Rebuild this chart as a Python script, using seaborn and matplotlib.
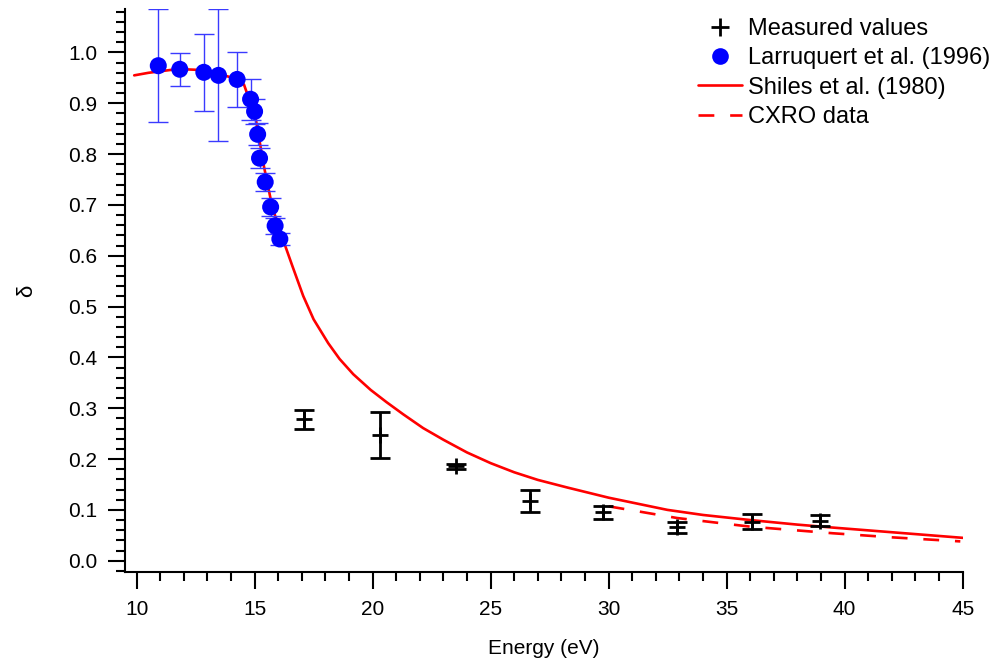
import numpy as np
import pandas as pd
import matplotlib
matplotlib.use("Agg")
import matplotlib.pyplot as plt
import seaborn as sns
from matplotlib.ticker import MultipleLocator, FormatStrFormatter
from matplotlib.lines import Line2D

# ---- data ----
meas_E = [17.08, 20.30, 23.52, 26.67, 29.78, 32.91, 36.09, 38.95]
meas_d = [0.278, 0.247, 0.186, 0.118, 0.095, 0.066, 0.077, 0.079]
meas_err = [0.019, 0.045, 0.005, 0.022, 0.012, 0.011, 0.015, 0.010]

larr_E = [10.92, 11.83, 12.85, 13.47, 14.26, 14.83, 15.00, 15.13, 15.21, 15.45, 15.68, 15.87, 16.07]
larr_d = [0.974, 0.967, 0.961, 0.955, 0.947, 0.908, 0.884, 0.839, 0.792, 0.745, 0.696, 0.659, 0.633]
larr_err = [0.111, 0.032, 0.076, 0.130, 0.054, 0.040, 0.025, 0.022, 0.020, 0.018, 0.018, 0.016, 0.012]

shiles_E = [9.9, 10.5, 11.0, 11.5, 12.0, 12.5, 13.0, 13.5, 14.0, 14.55, 15.04, 15.4, 15.75, 16.0, 16.21,
            16.6, 17.06, 17.5, 18.12, 18.6, 19.18, 19.92, 20.59, 21.3, 22.14, 23.0, 24.0, 25.0, 26.0,
            27.0, 28.25, 30.0, 32.49, 34.0, 36.0, 38.0, 39.55, 42.0, 45.0]
shiles_d = [0.955, 0.960, 0.963, 0.966, 0.967, 0.966, 0.963, 0.958, 0.951, 0.937, 0.872, 0.775, 0.696,
            0.660, 0.631, 0.580, 0.521, 0.475, 0.428, 0.397, 0.367, 0.336, 0.312, 0.288, 0.261, 0.238,
            0.213, 0.192, 0.174, 0.159, 0.144, 0.124, 0.100, 0.090, 0.080, 0.071, 0.065, 0.056, 0.045]

cxro_E = [30.0, 32.9, 36.0, 39.5, 42.0, 44.9]
cxro_d = [0.107, 0.084, 0.067, 0.054, 0.046, 0.038]

legend_labels = ["Measured values", "Larruquert et al. (1996)", "Shiles et al. (1980)", "CXRO data"]

sns.set_theme(style="ticks")
plt.rcParams['font.family'] = ['Liberation Sans', 'DejaVu Sans']
plt.rcParams['text.color'] = 'black'
plt.rcParams['axes.labelcolor'] = 'black'

fig = plt.figure(figsize=(10.03, 6.59), dpi=100)
ax = fig.add_axes([0.1251, 0.1325, 0.8347, 0.8534])

shiles = pd.DataFrame({"E": shiles_E, "d": shiles_d})
cxro = pd.DataFrame({"E": cxro_E, "d": cxro_d})

sns.lineplot(data=shiles, x="E", y="d", ax=ax, color="#ff0000", lw=1.9, legend=False, zorder=3)
sns.lineplot(data=cxro, x="E", y="d", ax=ax, color="#ff0000", lw=1.9, legend=False, zorder=3)
ax.lines[-1].set_dashes((6, 6))

ax.errorbar(larr_E, larr_d, yerr=larr_err, fmt='none', ecolor="#3a3aff", elinewidth=1.0,
            capsize=7, capthick=1.0, zorder=4)
sns.scatterplot(x=larr_E, y=larr_d, ax=ax, color="#0000ff", s=150, edgecolor="none",
                zorder=5, legend=False)

ax.errorbar(meas_E, meas_d, yerr=meas_err, fmt='+', color='black', ms=12, mew=2,
            elinewidth=2, capsize=7, capthick=2, zorder=6)

ax.set_xlim(9.53, 45.0)
ax.set_ylim(-0.0216, 1.085)
ax.xaxis.set_major_locator(MultipleLocator(5))
ax.xaxis.set_minor_locator(MultipleLocator(1))
ax.yaxis.set_major_locator(MultipleLocator(0.1))
ax.yaxis.set_minor_locator(MultipleLocator(0.02))
ax.yaxis.set_major_formatter(FormatStrFormatter('%.1f'))

for s in ['top', 'right']:
    ax.spines[s].set_visible(False)
for s in ['left', 'bottom']:
    ax.spines[s].set_linewidth(1.5)
    ax.spines[s].set_color('black')
ax.tick_params(which='major', direction='out', length=12.5, width=1.5, labelsize=15, pad=8,
               colors='black', labelcolor='black')
ax.tick_params(which='minor', direction='out', length=6.5, width=1.5, colors='black')

ax.set_xlabel("Energy (eV)", fontsize=15, labelpad=14, color='black')
ax.set_ylabel("δ", fontsize=16, labelpad=22, color='black')

handles = [
    Line2D([], [], color='black', marker='+', ms=13, mew=2, ls='none'),
    Line2D([], [], color='#0000ff', marker='o', ms=12, ls='none', mec='none'),
    Line2D([], [], color='#ff0000', lw=1.9),
    Line2D([], [], color='#ff0000', lw=1.9, dashes=(6, 6)),
]
leg = ax.legend(handles, legend_labels, loc='upper left', bbox_to_anchor=(698 / 1003, 1 - 18 / 659),
                bbox_transform=fig.transFigure, frameon=False, fontsize=17, handlelength=1.85,
                handletextpad=0.25, labelspacing=0.31, borderpad=0, borderaxespad=0)
for t in leg.get_texts():
    t.set_color('black')

fig.savefig("out.png", dpi=100)
